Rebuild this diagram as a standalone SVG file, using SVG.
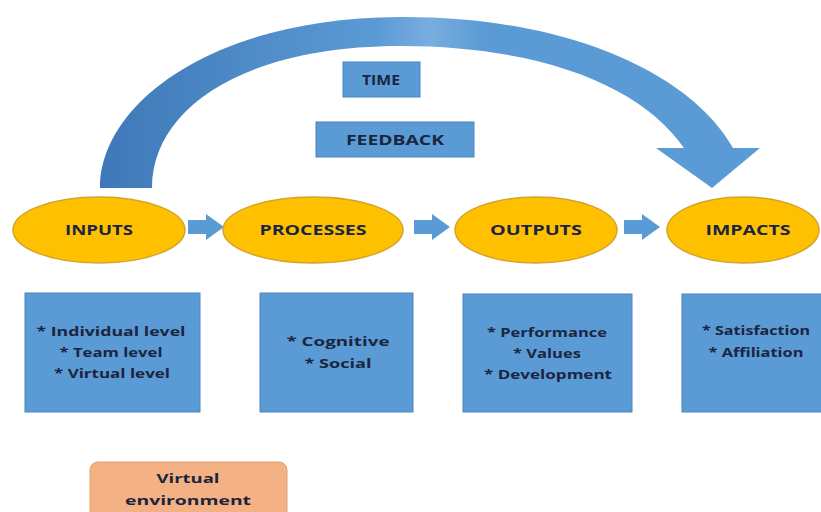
<svg xmlns="http://www.w3.org/2000/svg" width="821" height="512" viewBox="0 0 821 512">
  <defs>
    <linearGradient id="arcFill" x1="0" y1="0" x2="1" y2="0">
      <stop offset="0" stop-color="#3f78b8"/>
      <stop offset="0.42" stop-color="#5b9bd5"/>
      <stop offset="0.5" stop-color="#79addf"/>
      <stop offset="0.58" stop-color="#5b9bd5"/>
      <stop offset="1" stop-color="#5b9bd5"/>
    </linearGradient>
    <path id="blockArrow" d="M0,-7 L18,-7 L18,-13 L36,0 L18,13 L18,7 L0,7 Z"/>
  </defs>
  <style>
    .stage { fill: #ffc000; stroke: #d3a42a; stroke-width: 1.5; }
    .box { fill: #5b9bd5; stroke: #4a86c0; stroke-width: 1; }
    .env { fill: #f4b183; stroke: #e0a070; stroke-width: 1; }
    .flow { fill: #5b9bd5; }
    text { font-family: "Open Sans", "Liberation Sans", sans-serif; font-weight: bold; fill: #1b2540; text-anchor: middle; }
    .head { font-size: 14px; }
    .item { font-size: 13px; }
  </style>

  <rect width="821" height="512" fill="#ffffff"/>

  <!-- feedback loop arc from INPUTS over to IMPACTS, plus the stage-to-stage arrows -->
  <g id="connectors">
    <path d="M100,188 C100,105 210,18 400,17 C565,16 690,72 733,148 L760,148 L712,188 L656,148 L684,148 C643,88 545,46 400,46 C245,46 152,108 152,188 Z" fill="url(#arcFill)"/>
    <use href="#blockArrow" x="188" y="227" class="flow"/>
    <use href="#blockArrow" x="414" y="227" class="flow"/>
    <use href="#blockArrow" x="624" y="227" class="flow"/>
  </g>

  <g id="time">
    <rect x="343" y="62" width="77" height="35" class="box"/>
    <text x="381" y="85" class="head" textLength="38" lengthAdjust="spacingAndGlyphs">TIME</text>
  </g>
  <g id="feedback">
    <rect x="316" y="122" width="158" height="35" class="box"/>
    <text x="395" y="145" class="head" textLength="98" lengthAdjust="spacingAndGlyphs">FEEDBACK</text>
  </g>

  <g id="inputs">
    <ellipse cx="99" cy="230" rx="86" ry="33" class="stage"/>
    <text x="99" y="235" class="head" textLength="68" lengthAdjust="spacingAndGlyphs">INPUTS</text>
  </g>
  <g id="processes">
    <ellipse cx="313" cy="230" rx="90" ry="33" class="stage"/>
    <text x="313" y="235" class="head" textLength="107" lengthAdjust="spacingAndGlyphs">PROCESSES</text>
  </g>
  <g id="outputs">
    <ellipse cx="536" cy="230" rx="81" ry="33" class="stage"/>
    <text x="536" y="235" class="head" textLength="92" lengthAdjust="spacingAndGlyphs">OUTPUTS</text>
  </g>
  <g id="impacts">
    <ellipse cx="743" cy="230" rx="76" ry="33" class="stage"/>
    <text x="748" y="235" class="head" textLength="85" lengthAdjust="spacingAndGlyphs">IMPACTS</text>
  </g>

  <g id="inputs-detail">
    <rect x="25" y="293" width="175" height="119" class="box"/>
    <text x="111" y="336" class="item" textLength="149" lengthAdjust="spacingAndGlyphs">* Individual  level</text>
    <text x="111" y="357" class="item" textLength="103" lengthAdjust="spacingAndGlyphs">* Team level</text>
    <text x="112" y="378" class="item" textLength="116" lengthAdjust="spacingAndGlyphs">* Virtual  level</text>
  </g>
  <g id="processes-detail">
    <rect x="260" y="293" width="153" height="119" class="box"/>
    <text x="338" y="346" class="item" textLength="103" lengthAdjust="spacingAndGlyphs">* Cognitive</text>
    <text x="338" y="368" class="item" textLength="67" lengthAdjust="spacingAndGlyphs">* Social</text>
  </g>
  <g id="outputs-detail">
    <rect x="463" y="294" width="169" height="118" class="box"/>
    <text x="547" y="337" class="item" textLength="120" lengthAdjust="spacingAndGlyphs">* Performance</text>
    <text x="547" y="358" class="item" textLength="68" lengthAdjust="spacingAndGlyphs">* Values</text>
    <text x="548" y="379" class="item" textLength="128" lengthAdjust="spacingAndGlyphs">* Development</text>
  </g>
  <g id="impacts-detail">
    <rect x="682" y="294" width="145" height="118" class="box"/>
    <text x="756" y="335" class="item" textLength="108" lengthAdjust="spacingAndGlyphs">* Satisfaction</text>
    <text x="756" y="357" class="item" textLength="95" lengthAdjust="spacingAndGlyphs">* Affiliation</text>
  </g>

  <g id="virtual-environment">
    <rect x="90" y="462" width="197" height="60" rx="8" class="env"/>
    <text x="188" y="483" class="item" textLength="63" lengthAdjust="spacingAndGlyphs">Virtual</text>
    <text x="188" y="505" class="item" textLength="126" lengthAdjust="spacingAndGlyphs">environment</text>
  </g>
</svg>
